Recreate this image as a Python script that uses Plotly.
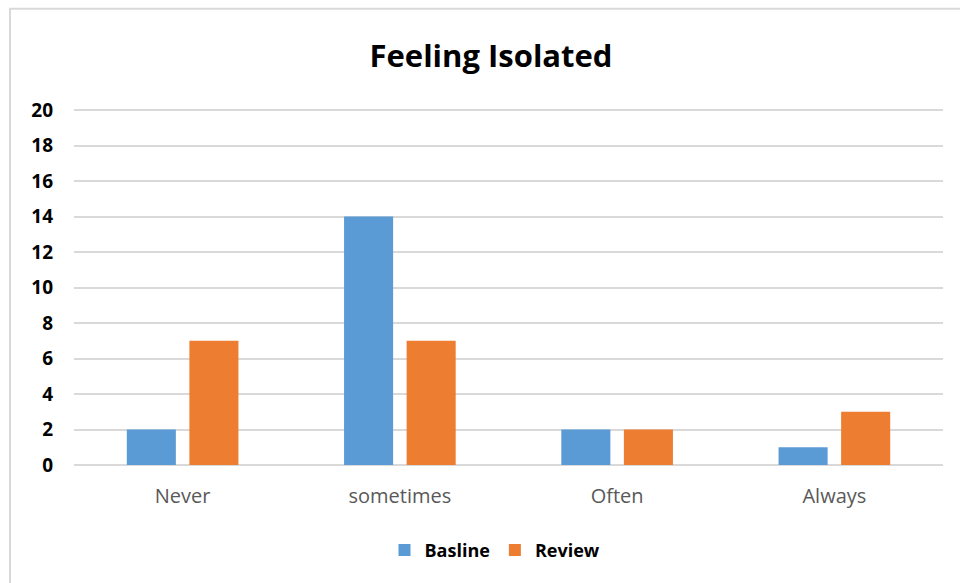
import plotly.graph_objects as go

categories = ["Never", "sometimes", "Often", "Always"]
basline = [2, 14, 2, 1]
review = [7, 7, 2, 3]
y_ticks = list(range(0, 22, 2))

W, H = 960, 583
L, R, T, B = 74, 17, 110, 118
pw, ph = W - L - R, H - T - B

fig = go.Figure()
fig.add_trace(go.Bar(name="<b>Basline</b>", x=categories, y=basline, marker_color="#5B9BD5",
                     marker_line_width=0))
fig.add_trace(go.Bar(name="<b>Review</b>", x=categories, y=review, marker_color="#ED7D31",
                     marker_line_width=0))

def px_x(p):
    return (p - L) / pw

def px_y(p):
    return (H - B - p) / ph

fig.update_layout(
    width=W, height=H,
    margin=dict(l=L, r=R, t=T - 1, b=B, autoexpand=False),
    paper_bgcolor="white", plot_bgcolor="white",
    barmode="group", bargap=0.424, bargroupgap=0.216,
    title=dict(text="<b>Feeling Isolated</b>", x=px_x(491), xref="paper", xanchor="center",
               y=1 - 56 / H, yanchor="middle",
               font=dict(family="Open Sans", size=31, color="#000000")),
    font=dict(family="Open Sans"),
    xaxis=dict(showgrid=False, ticks="", showline=False, zeroline=False,
               tickfont=dict(family="Open Sans", size=20, color="#595959"),
               ticklabelstandoff=17),
    yaxis=dict(range=[0, 20.06], tickvals=y_ticks, ticktext=[f"<b>{v}</b>" for v in y_ticks],
               showgrid=True, gridcolor="#D9D9D9", gridwidth=2,
               zeroline=True, zerolinecolor="#D9D9D9", zerolinewidth=2,
               showline=False, ticks="",
               tickfont=dict(family="Open Sans", size=19, color="#000000"),
               ticklabelstandoff=20),
    legend=dict(orientation="h", x=px_x(495), xanchor="center", y=px_y(550), yanchor="middle",
                font=dict(family="Open Sans", size=18, color="#000000"),
                itemwidth=30, traceorder="normal"),
    shapes=[dict(type="rect", xref="paper", yref="paper",
                 x0=px_x(10), x1=px_x(975), y0=px_y(600), y1=px_y(10),
                 line=dict(color="#D9D9D9", width=2), fillcolor="rgba(0,0,0,0)", layer="below")],
)

fig.write_html("out.html", config={"displayModeBar": False},
               post_script="document.body.style.margin='0';document.body.style.padding='0';")
